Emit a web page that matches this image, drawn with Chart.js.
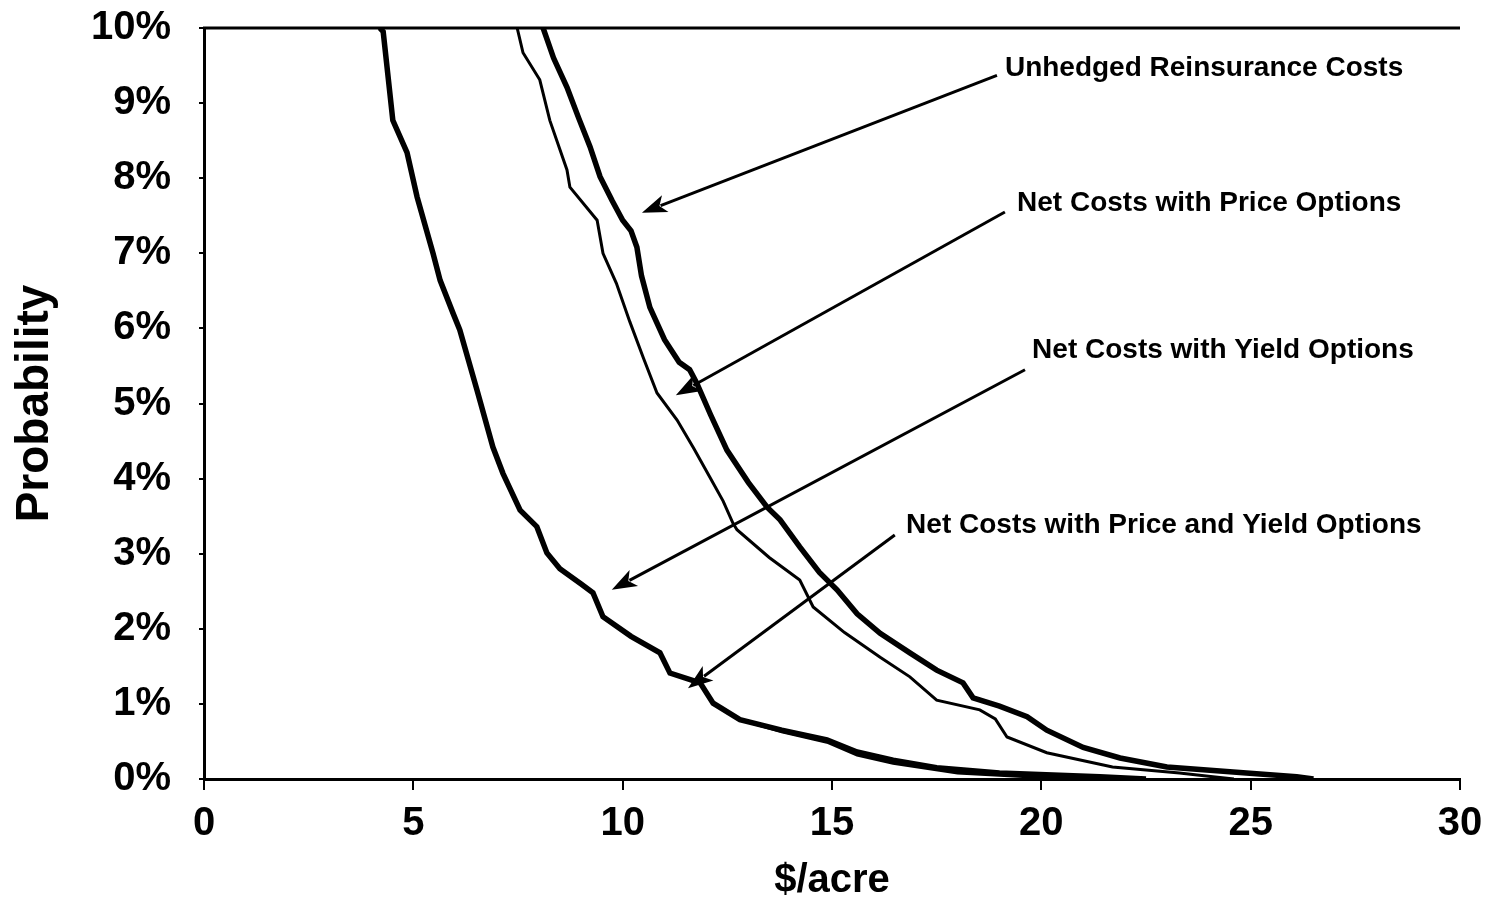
<!DOCTYPE html>
<html>
<head>
<meta charset="utf-8">
<script src="https://cdn.jsdelivr.net/npm/chart.js@4.4.1/dist/chart.umd.min.js"></script>
<style>
  html, body { margin: 0; padding: 0; background: #fff; }
  #wrap { width: 1489px; height: 909px; position: relative; }
</style>
</head>
<body>
<div id="wrap"><canvas id="costChart" width="1489" height="909"></canvas></div>
<script>
/* ── Data: x = $/acre, y = probability in % ── */
const unhedgedX = [8.10, 8.35, 8.67, 8.95, 9.22, 9.46, 9.75, 10.0, 10.2, 10.34, 10.45, 10.65, 11.0, 11.35, 11.6, 11.77, 12.1, 12.49, 13.0, 13.45, 13.76, 14.23, 14.7, 15.12, 15.6, 16.15, 16.86, 17.5, 18.13, 18.37, 19.0, 19.66, 20.13, 21.0, 21.88, 23.0, 24.9, 26.1, 26.5];
const unhedgedY = [10, 9.6, 9.21, 8.8, 8.42, 8.02, 7.7, 7.44, 7.3, 7.08, 6.7, 6.28, 5.85, 5.55, 5.45, 5.27, 4.85, 4.38, 3.95, 3.62, 3.45, 3.09, 2.75, 2.52, 2.2, 1.94, 1.68, 1.45, 1.28, 1.08, 0.97, 0.83, 0.65, 0.42, 0.28, 0.16, 0.08, 0.03, 0];

const priceX = [7.48, 7.62, 8.02, 8.26, 8.67, 8.74, 9.39, 9.53, 9.85, 10.17, 10.5, 10.82, 11.3, 11.7, 12.08, 12.4, 12.63, 12.73, 13.5, 14.23, 14.55, 15.3, 16.15, 16.86, 17.5, 18.53, 18.9, 19.18, 20.13, 21.7, 23.3, 24.1, 24.6];
const priceY = [10, 9.67, 9.31, 8.77, 8.11, 7.88, 7.44, 7.0, 6.6, 6.09, 5.6, 5.14, 4.78, 4.4, 4.02, 3.7, 3.41, 3.32, 2.95, 2.65, 2.29, 1.95, 1.62, 1.36, 1.05, 0.92, 0.8, 0.56, 0.35, 0.16, 0.08, 0.03, 0];

const yieldX = [4.2, 4.28, 4.51, 4.85, 5.09, 5.47, 5.64, 5.95, 6.11, 6.52, 6.9, 7.14, 7.55, 7.95, 8.19, 8.5, 9.0, 9.29, 9.53, 10.2, 10.89, 11.13, 11.85, 12.16, 12.8, 13.8, 14.88, 15.6, 16.46, 17.5, 19.0, 21.4, 22.5];
const yieldY = [10, 9.95, 8.77, 8.34, 7.75, 7.0, 6.64, 6.2, 5.98, 5.18, 4.42, 4.07, 3.58, 3.36, 3.01, 2.8, 2.6, 2.48, 2.16, 1.9, 1.68, 1.41, 1.28, 1.01, 0.79, 0.65, 0.52, 0.36, 0.25, 0.15, 0.08, 0.03, 0];

const bothX = [4.19, 4.27, 4.5, 4.84, 5.08, 5.46, 5.63, 5.94, 6.1, 6.51, 6.89, 7.13, 7.54, 7.94, 8.18, 8.49, 8.99, 9.28, 9.52, 10.19, 10.88, 11.12, 11.84, 12.15, 12.79, 13.8, 14.88, 15.6, 16.46, 18.0, 20.0, 21.0];
const bothY = [10, 9.95, 8.77, 8.34, 7.75, 7.0, 6.64, 6.2, 5.98, 5.18, 4.42, 4.07, 3.58, 3.36, 3.01, 2.8, 2.6, 2.48, 2.16, 1.9, 1.68, 1.41, 1.28, 1.01, 0.79, 0.63, 0.49, 0.32, 0.21, 0.08, 0.02, 0];

/* ── Axis ticks ── */
const xTicks = [0, 5, 10, 15, 20, 25, 30];
const yTicks = [0, 1, 2, 3, 4, 5, 6, 7, 8, 9, 10];

/* ── Callout labels and arrows, in data units ── */
const labelText = ['Unhedged Reinsurance Costs', 'Net Costs with Price Options', 'Net Costs with Yield Options', 'Net Costs with Price and Yield Options'];
const labelX = [19.13, 19.42, 19.78, 16.77];
const labelY = [9.47, 7.66, 5.71, 3.38];
const arrowFromX = [18.94, 19.13, 19.61, 16.5];
const arrowFromY = [9.37, 7.55, 5.45, 3.25];
const arrowToX = [10.46, 11.27, 9.74, 11.56];
const arrowToY = [7.54, 5.11, 2.52, 1.21];

const FONT = '"Liberation Sans", Arial, Helvetica, sans-serif';

function toPoints(xs, ys) {
  return xs.map((x, i) => ({ x: x, y: ys[i] }));
}

/* ── Plugin: top frame line, callout arrows and labels ── */
const calloutPlugin = {
  id: 'callouts',
  afterDatasetsDraw(chart) {
    const ctx = chart.ctx;
    const xs = chart.scales.x, ys = chart.scales.y;
    const area = chart.chartArea;
    ctx.save();

    // top border of the plot frame
    ctx.strokeStyle = '#000';
    ctx.lineWidth = 3;
    ctx.beginPath();
    ctx.moveTo(area.left - 1, area.top);
    ctx.lineTo(area.right, area.top);
    ctx.stroke();

    // arrows
    for (let i = 0; i < arrowFromX.length; i++) {
      const x1 = xs.getPixelForValue(arrowFromX[i]);
      const y1 = ys.getPixelForValue(arrowFromY[i]);
      const x2 = xs.getPixelForValue(arrowToX[i]);
      const y2 = ys.getPixelForValue(arrowToY[i]);
      const ang = Math.atan2(y2 - y1, x2 - x1);
      const c = Math.cos(ang), s = Math.sin(ang);
      const headLen = 25, headW = 9;
      ctx.lineWidth = 3;
      ctx.beginPath();
      ctx.moveTo(x1, y1);
      ctx.lineTo(x2 - c * headLen * 0.8, y2 - s * headLen * 0.8);
      ctx.stroke();
      ctx.beginPath();
      ctx.moveTo(x2, y2);
      ctx.lineTo(x2 - c * headLen - s * headW, y2 - s * headLen + c * headW);
      ctx.lineTo(x2 - c * headLen * 0.75, y2 - s * headLen * 0.75);
      ctx.lineTo(x2 - c * headLen + s * headW, y2 - s * headLen - c * headW);
      ctx.closePath();
      ctx.fillStyle = '#000';
      ctx.fill();
    }

    // labels
    ctx.font = 'bold 28px ' + FONT;
    ctx.fillStyle = '#000';
    ctx.textAlign = 'left';
    ctx.textBaseline = 'middle';
    for (let i = 0; i < labelText.length; i++) {
      ctx.fillText(labelText[i], xs.getPixelForValue(labelX[i]), ys.getPixelForValue(labelY[i]));
    }
    ctx.restore();
  }
};

const ctx = document.getElementById('costChart').getContext('2d');

new Chart(ctx, {
  type: 'line',
  data: {
    datasets: [
      {
        label: 'Unhedged Reinsurance Costs',
        data: toPoints(unhedgedX, unhedgedY),
        borderColor: '#000',
        borderWidth: 5.5,
        pointRadius: 0,
        tension: 0
      },
      {
        label: 'Net Costs with Price Options',
        data: toPoints(priceX, priceY),
        borderColor: '#000',
        borderWidth: 3,
        pointRadius: 0,
        tension: 0
      },
      {
        label: 'Net Costs with Price and Yield Options',
        data: toPoints(bothX, bothY),
        borderColor: '#000',
        borderWidth: 3,
        pointRadius: 0,
        tension: 0
      },
      {
        label: 'Net Costs with Yield Options',
        data: toPoints(yieldX, yieldY),
        borderColor: '#000',
        borderWidth: 5.5,
        pointRadius: 0,
        tension: 0
      }
    ]
  },
  options: {
    responsive: false,
    animation: false,
    layout: { padding: { left: 0, right: 29, top: 28, bottom: 0 } },
    plugins: {
      legend: { display: false },
      tooltip: { enabled: false }
    },
    scales: {
      x: {
        type: 'linear',
        min: 0,
        max: 30,
        afterFit(scale) {
          scale.height = 130;
          scale.paddingLeft = 0;
          scale.paddingRight = 0;
        },
        afterBuildTicks(scale) { scale.ticks = xTicks.map(v => ({ value: v })); },
        grid: { drawOnChartArea: false, drawTicks: true, tickLength: 11, color: '#000', lineWidth: 2 },
        border: { color: '#000', width: 3 },
        ticks: {
          color: '#000',
          padding: 10,
          maxRotation: 0,
          font: { family: FONT, size: 40, weight: 'bold' }
        },
        title: {
          display: true,
          text: '$/acre',
          color: '#000',
          padding: { top: 0, bottom: 4 },
          font: { family: FONT, size: 40, weight: 'bold' }
        }
      },
      y: {
        type: 'linear',
        min: 0,
        max: 10,
        afterFit(scale) {
          scale.width = 204;
          scale.paddingTop = 0;
          scale.paddingBottom = 0;
        },
        afterBuildTicks(scale) { scale.ticks = yTicks.map(v => ({ value: v })); },
        grid: { drawOnChartArea: false, drawTicks: true, tickLength: 5, color: '#000', lineWidth: 2 },
        border: { color: '#000', width: 3 },
        ticks: {
          color: '#000',
          padding: 28,
          font: { family: FONT, size: 40, weight: 'bold' },
          callback: v => v + '%'
        },
        title: {
          display: true,
          text: 'Probability',
          color: '#000',
          padding: { top: 8, bottom: 0 },
          font: { family: FONT, size: 46, weight: 'bold' }
        }
      }
    }
  },
  plugins: [calloutPlugin]
});
</script>
</body>
</html>
